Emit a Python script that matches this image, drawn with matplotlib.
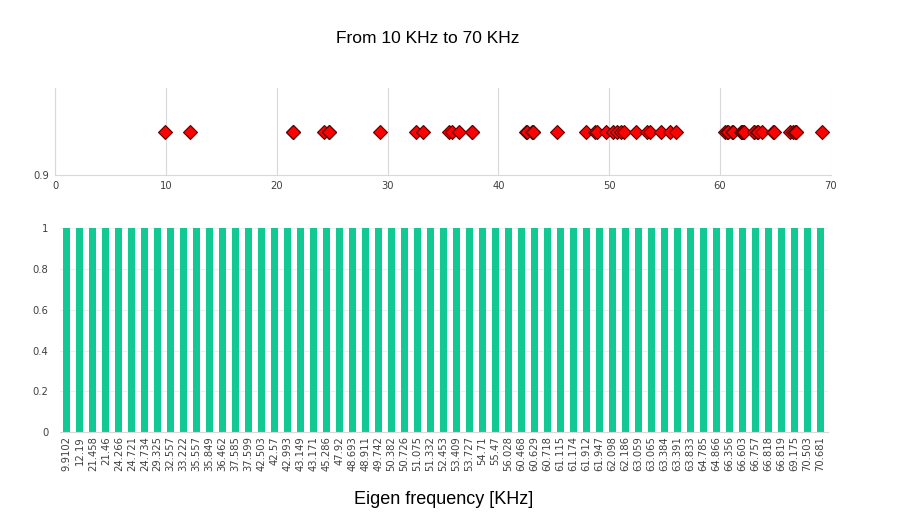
import numpy as np
import matplotlib
matplotlib.use("Agg")
import matplotlib.pyplot as plt

# eigen frequencies (KHz)
freq_labels = ["9.9102", "12.19", "21.458", "21.46", "24.266", "24.721", "24.734",
               "29.325", "32.557", "33.222", "35.557", "35.849", "36.462", "37.585",
               "37.599", "42.503", "42.57", "42.993", "43.149", "43.171", "45.286",
               "47.92", "48.693", "48.911", "49.742", "50.382", "50.726", "51.075",
               "51.332", "52.453", "53.409", "53.727", "54.71", "55.47", "56.028",
               "60.468", "60.629", "60.718", "61.115", "61.174", "61.912", "61.947",
               "62.098", "62.186", "63.059", "63.065", "63.384", "63.391", "63.833",
               "64.785", "64.866", "66.356", "66.603", "66.757", "66.818", "66.819",
               "69.175", "70.503", "70.681"]
freqs = [float(s) for s in freq_labels]
bar_values = [1] * len(freqs)

top_xticks = [0, 10, 20, 30, 40, 50, 60, 70]
bottom_yticks = [0, 0.2, 0.4, 0.6, 0.8, 1]

tick_font = dict(family='DejaVu Sans', fontstretch='condensed')
grid_col = '#d9d9d9'
tick_col = '#404040'

fig = plt.figure(figsize=(9.04, 5.15), dpi=100)
fig.text(0.473, 0.925, "From 10 KHz to 70 KHz", ha='center', va='center',
         fontsize=12.5, family=['Liberation Sans', 'DejaVu Sans'])

# top strip: frequencies as markers (the range stops at 70 KHz)
top_freqs = [f for f in freqs if f <= 70]
ax1 = fig.add_axes([0.061, 0.660, 0.858, 0.169])
ax1.plot(top_freqs, [1] * len(top_freqs), linestyle='none', marker='D', markersize=7.5,
         markerfacecolor='#ff0000', markeredgecolor='#5a0000', markeredgewidth=0.8)
ax1.set_xlim(0, 70)
ax1.set_ylim(0.9, 1.1)
ax1.set_xticks(top_xticks)
ax1.set_xticklabels([str(t) for t in top_xticks], fontsize=8, color=tick_col, **tick_font)
ax1.set_yticks([0.9])
ax1.set_yticklabels(["0.9"], fontsize=8, color=tick_col, **tick_font)
ax1.tick_params(length=0, pad=4)
ax1.grid(axis='x', color=grid_col, linewidth=0.8)
ax1.set_axisbelow(True)
for side in ['top', 'right']:
    ax1.spines[side].set_visible(False)
for side in ['left', 'bottom']:
    ax1.spines[side].set_color(grid_col)

# bottom: bar per eigen frequency
ax2 = fig.add_axes([0.066, 0.161, 0.850, 0.396])
x = np.arange(len(freqs))
ax2.bar(x, bar_values, width=0.55, color='#12c994')
ax2.set_xlim(-0.55, len(freqs) - 0.4)
ax2.set_ylim(0, 1)
ax2.set_yticks(bottom_yticks)
ax2.set_yticklabels(["0", "0.2", "0.4", "0.6", "0.8", "1"], fontsize=8, color=tick_col,
                    **tick_font)
ax2.set_xticks(x)
ax2.set_xticklabels(freq_labels, rotation=90, fontsize=8, color=tick_col, **tick_font)
ax2.tick_params(length=0, pad=3)
ax2.tick_params(axis='y', pad=8)
ax2.grid(axis='y', color='#eeeeee', linewidth=0.8)
ax2.set_axisbelow(True)
for side in ['top', 'right', 'left']:
    ax2.spines[side].set_visible(False)
ax2.spines['bottom'].set_color(grid_col)
ax2.set_xlabel("Eigen frequency [KHz]", fontsize=13,
               family=['Liberation Sans', 'DejaVu Sans'], labelpad=14)

fig.savefig("out.png", dpi=100)
